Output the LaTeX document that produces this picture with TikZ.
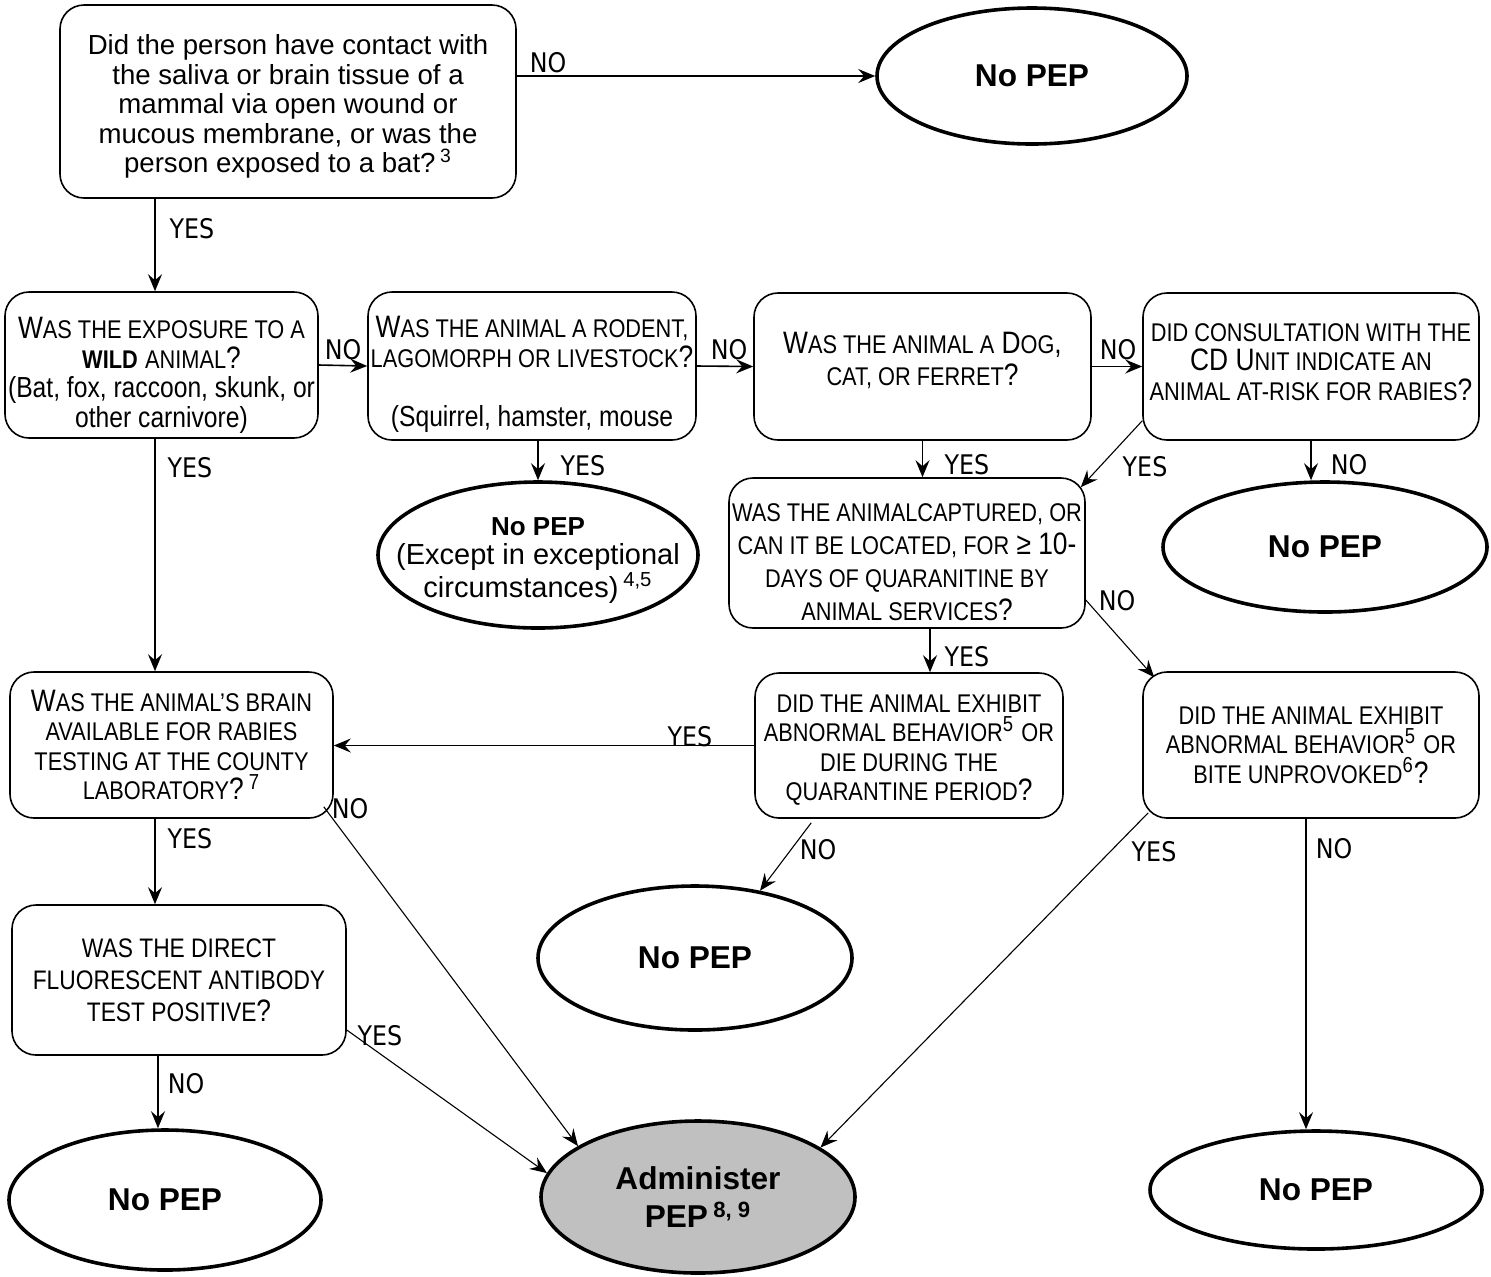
\documentclass[tikz,border=0pt]{standalone}
\usepackage{fontspec}
\setmainfont{Liberation Sans}
\newfontfamily\narrowfont[FakeStretch=0.85]{Liberation Sans}
\newfontfamily\lblfont[FakeStretch=0.88]{DejaVu Sans}
\usetikzlibrary{arrows.meta,calc,shapes.geometric}
\definecolor{admgray}{RGB}{192,192,192}
\newcommand\SC[1]{{\fontsize{12.8}{14.75}\selectfont #1}}
\newcommand\SCb[1]{{\fontsize{12.8}{16.5}\selectfont #1}}
\newcommand\SCc[1]{{\fontsize{13.4}{16}\selectfont #1}}
\newcommand\RG[1]{{\fontsize{14.5}{14.75}\selectfont #1}}
\begin{document}
\begin{tikzpicture}[x=0.5pt,y=-0.5pt,
  box/.style={draw,line width=0.8pt,rounded corners=12pt,inner sep=0pt,align=center,
    font=\narrowfont\fontsize{15.5}{14.75}\selectfont},
  oval/.style={draw,ellipse,line width=1.8pt,inner sep=0pt,align=center,
    font=\bfseries\fontsize{15.8}{19}\selectfont},
  arr/.style={line width=0.8pt,-{Stealth[length=8.5pt,width=7pt,inset=3pt]}},
  thinarr/.style={line width=0.55pt,-{Stealth[length=8.5pt,width=7pt,inset=3pt]}},
  lbl/.style={font=\lblfont\fontsize{13.5}{14}\selectfont,inner sep=0pt}]
\useasboundingbox (0,0) rectangle (1491,1276);

% helper coordinates for vertical connectors
\coordinate (v155) at (155,0);
\coordinate (v158) at (158,0);
\coordinate (v930) at (930,0);
\coordinate (v1306) at (1306,0);

% ---------- nodes ----------
\node[box,minimum width=228pt,minimum height=96.5pt,
  font=\fontsize{13.8}{14.7}\selectfont] (q1) at (288,101.5)
  {\mbox{}\\[0.4pt]Did the person have contact with\\ the saliva or brain tissue of a\\ mammal via open wound or\\ mucous membrane, or was the\\ person exposed to a bat?\,\textsuperscript{3}};

\node[oval,minimum width=155pt,minimum height=68pt] (e1) at (1032,76) {No PEP};

\node[box,minimum width=156.5pt,minimum height=73pt] (wild) at (161.5,365)
  {\mbox{}\\[6.35pt]W\SC{AS THE EXPOSURE TO A}\\ {\bfseries\SC{WILD}} \SC{ANIMAL}?\\
   \RG{(Bat, fox, raccoon, skunk, or}\\ \RG{other carnivore)}};

\node[box,minimum width=164pt,minimum height=74pt] (rodent) at (532,366)
  {\mbox{}\\[4.35pt]W\SC{AS THE ANIMAL A RODENT,}\\ \SC{LAGOMORPH OR LIVESTOCK}?\\[15pt]
   \RG{(Squirrel, hamster, mouse}};

\node[box,minimum width=168.5pt,minimum height=73.5pt,
  font=\narrowfont\fontsize{15.5}{16}\selectfont] (dog) at (922.5,366.5)
  {W\SC{AS THE ANIMAL A} D\SC{OG},\\ \SC{CAT, OR FERRET}?\\[-8pt]\mbox{}};

\node[box,minimum width=168pt,minimum height=73.5pt] (cd) at (1311,366.5)
  {\SC{DID CONSULTATION WITH THE}\\ CD U\SC{NIT INDICATE AN}\\ \SC{ANIMAL AT-RISK FOR RABIES}?\\[-10pt]\mbox{}};

\node[oval,minimum width=160pt,minimum height=73pt,inner xsep=-16pt,
  font=\fontsize{14.5}{14.5}\selectfont] (e2) at (538,555)
  {\mbox{}\\[-0.2pt]{\bfseries\fontsize{13}{14.5}\selectfont No PEP}\\ (Except in exceptional\\ circumstances)\,\textsuperscript{4,5}};

\node[oval,minimum width=162pt,minimum height=65pt] (e3) at (1325,547) {No PEP};

\node[box,minimum width=178pt,minimum height=75pt,
  font=\narrowfont\fontsize{15.5}{16.5}\selectfont] (capt) at (907,553)
  {\mbox{}\\[1.7pt]\SCb{WAS THE ANIMALCAPTURED, OR}\\ \SCb{CAN IT BE LOCATED, FOR} ≥ 10-\\
   \SCb{DAYS OF QUARANITINE BY}\\ \SCb{ANIMAL SERVICES}?};

\node[box,minimum width=161.5pt,minimum height=73pt] (brain) at (171.5,745)
  {W\SC{AS THE ANIMAL’S BRAIN}\\ \SC{AVAILABLE FOR RABIES}\\ \SC{TESTING AT THE COUNTY}\\
   \SC{LABORATORY}?\,\textsuperscript{7}};

\node[box,minimum width=154pt,minimum height=72.5pt] (abn) at (909,745.5)
  {\mbox{}\\[-1.55pt]\SC{DID THE ANIMAL EXHIBIT}\\ \SC{ABNORMAL BEHAVIOR}\textsuperscript{5} \SC{OR}\\
   \SC{DIE DURING THE}\\ \SC{QUARANTINE PERIOD}?};

\node[box,minimum width=168pt,minimum height=73pt] (bite) at (1311,745)
  {\SC{DID THE ANIMAL EXHIBIT}\\ \SC{ABNORMAL BEHAVIOR}\textsuperscript{5} \SC{OR}\\
   \SC{BITE UNPROVOKED}\textsuperscript{6}?};

\node[box,minimum width=167pt,minimum height=75pt,
  font=\narrowfont\fontsize{15.5}{16}\selectfont] (dfa) at (179,980)
  {\SCc{WAS THE DIRECT}\\ \SCc{FLUORESCENT ANTIBODY}\\ \SCc{TEST POSITIVE}?};

\node[oval,minimum width=157pt,minimum height=72pt] (e4) at (695,958) {No PEP};
\node[oval,minimum width=156pt,minimum height=70pt] (e5) at (165,1200) {No PEP};
\node[oval,fill=admgray,minimum width=157pt,minimum height=76pt] (admin) at (698,1197)
  {Administer\\ PEP\,\textsuperscript{8, 9}};
\node[oval,minimum width=166pt,minimum height=59pt] (e6) at (1316,1190) {No PEP};

% ---------- connectors ----------
\draw[arr] (q1.east |- e1.west) -- (e1.west);
\draw[arr] (q1.south -| v155) -- (wild.north -| v155);
\draw[arr] (wild.east) -- (rodent.west);
\draw[arr] (rodent.east) -- (dog.west);
\draw[arr] (dog.east) -- (cd.west);
\draw[arr] (rodent.south -| e2.north) -- (e2.north);
\draw[arr] (dog.south) -- (dog.south |- capt.north);
\draw[thinarr] ($(cd.south west)+(0,-20)$) -- ($(capt.north east)+(-5,10)$);
\draw[arr] (cd.south) -- (cd.south |- e3.north);
\draw[arr] (capt.south -| v930) -- (abn.north -| v930);
\draw[thinarr] ($(capt.east)+(0,47)$) -- ($(bite.north west)+(12,6)$);
\draw[arr] (wild.south -| v155) -- (brain.north -| v155);
\draw[arr] (abn.west) -- (abn.west -| brain.east);
\draw[arr] (brain.south -| v155) -- (dfa.north -| v155);
\draw[thinarr] ($(brain.south east)+(-10,-12)$) -- (admin.157);
\draw[thinarr] ($(abn.south west)+(57,4)$) -- (e4.46);
\draw[thinarr] ($(bite.south west)+(6,-6)$) -- (admin.22);
\draw[arr] (bite.south -| v1306) -- (e6.north -| v1306);
\draw[arr] (dfa.south -| v158) -- (e5.north -| v158);
\draw[thinarr] ($(dfa.east)+(0,50)$) -- (admin.171);

% ---------- labels ----------
\node[lbl] (l1) at (548,63) {NO};
\node[lbl] (l2) at (192,229) {YES};
\node[lbl] (l3) at (343,350) {NO};
\node[lbl] (l4) at (729,350) {NO};
\node[lbl] (l5) at (1118,350) {NO};
\node[lbl] (l6) at (583,466) {YES};
\node[lbl] (l7) at (967,465) {YES};
\node[lbl] (l8) at (1145,467) {YES};
\node[lbl] (l9) at (1349,465) {NO};
\node[lbl] (l10) at (190,468) {YES};
\node[lbl] (l11) at (967,657) {YES};
\node[lbl] (l12) at (1117,601) {NO};
\node[lbl] (l13) at (690,737) {YES};
\node[lbl] (l14) at (350,809) {NO};
\node[lbl] (l15) at (190,839) {YES};
\node[lbl] (l16) at (818,850) {NO};
\node[lbl] (l17) at (1154,852) {YES};
\node[lbl] (l18) at (1334,849) {NO};
\node[lbl] (l19) at (380,1036) {YES};
\node[lbl] (l20) at (186,1084) {NO};
\end{tikzpicture}
\end{document}
